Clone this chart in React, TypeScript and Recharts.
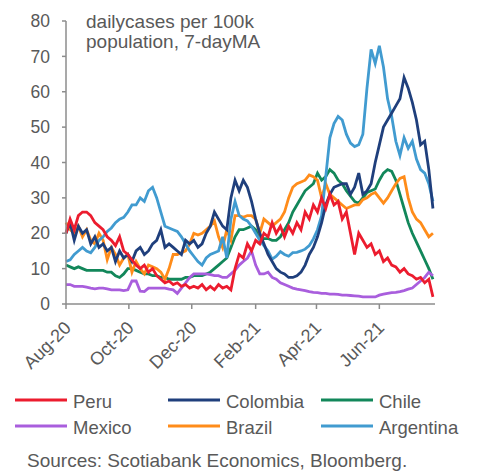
import React from 'react';
import { LineChart, Line, XAxis, YAxis } from 'recharts';

// Days since 1 Aug 2020, one sample every four days
const days: number[] = Array.from({ length: 90 }, (_, i) => i * 4);

const tickDays = [0, 61, 122, 184, 243, 304];
const tickLabels = ['Aug-20', 'Oct-20', 'Dec-20', 'Feb-21', 'Apr-21', 'Jun-21'];
const yTicks = [0, 10, 20, 30, 40, 50, 60, 70, 80];

const peru = [
  20, 24, 21, 25, 26, 26, 25, 23, 22, 21, 19, 18, 16.5, 19, 15, 14, 12.5, 11, 10, 11,
  9, 10, 8, 7, 6, 6.5, 5.5, 6, 5, 5.5, 4.5, 5, 4.5, 5.5, 4, 5, 4, 5.5, 4.5, 5,
  4, 10, 14, 13, 17, 15, 18, 17, 20, 19, 23, 20, 22, 19, 22, 20, 23, 21, 26, 24,
  28, 26, 30, 27, 31, 28, 29, 24, 26, 20, 14, 20, 18, 16, 17, 14, 15, 12, 13, 11,
  10.5, 9, 10, 8.5, 8, 7, 7.5, 6, 7, 2,
];
const colombia = [
  20, 23, 18, 22, 20, 21, 17, 19, 16, 17, 15, 16, 12, 15, 13, 14, 12, 15, 16, 14,
  15, 17, 18, 21, 16, 17, 16, 15, 14, 18, 17, 18, 16, 17, 20, 22, 26, 24, 22, 21,
  30, 35, 32, 35, 33, 29, 24, 20, 17, 14, 12, 10, 9, 8.5, 7.5, 7.5, 8, 9, 11, 14,
  16, 19, 23, 28, 31, 33, 33.5, 34, 34, 31, 33, 37, 31, 32, 34, 40, 45, 50, 52, 54,
  56, 58, 64, 61, 57, 52, 45, 46, 38, 27,
];
const chile = [
  11, 10.5, 10, 10.5, 10, 9.5, 9.5, 9.5, 9.5, 9.5, 9, 9, 8, 7.5, 8.5, 10, 10, 9.5, 9, 8.5,
  8.5, 8, 8, 7.5, 7.5, 7, 7, 7, 7, 7.5, 7.5, 8, 8, 8, 8.5, 9, 10, 11, 12, 13,
  16, 19, 21, 21, 21.5, 22, 21, 19, 18.5, 18.5, 18, 18, 19, 21, 23, 26, 28, 30, 32, 33,
  34, 37, 35, 36, 38, 37, 35, 34, 32, 30.5, 29, 28.5, 30, 31.5, 32, 32.5, 35, 37, 38, 37.5,
  35, 31, 27, 23, 20, 17.5, 15, 12.5, 10, 7,
];
const mexico = [
  5.5, 5.5, 5, 5, 5, 4.8, 4.5, 4.3, 4.5, 4.5, 4.3, 4, 4, 4, 3.8, 4, 6.5, 6.5, 3.6, 3.5,
  4.5, 4.5, 4.5, 4.5, 4.5, 4.2, 4, 3, 4.5, 6, 7.5, 8.5, 8.5, 8.5, 8.5, 8.3, 8, 8, 7.5, 7.5,
  8.5, 9.5, 11, 12, 13, 15, 11, 8.5, 8.5, 9, 7.5, 7, 6, 5.5, 5, 4.5, 4.2, 4, 3.8, 3.5,
  3.3, 3.2, 3, 3, 2.8, 2.8, 2.7, 2.5, 2.5, 2.4, 2.3, 2.2, 2, 2, 2, 2, 2.5, 2.8, 3, 3.2,
  3.3, 3.5, 3.8, 4.2, 4.5, 5.5, 6.5, 7.5, 9, 8,
];
const brazil = [
  23, 21, 20, 22, 19, 21, 18, 17, 20, 18, 12.5, 16, 14, 11, 13, 14, 9, 12, 10, 8.5,
  11, 10.5, 10, 9, 7, 10, 14, 14, 14.5, 15, 17, 20, 19.5, 20, 21, 22, 23.5, 19, 16, 21,
  18, 25, 25, 24.5, 25, 25, 24, 20, 24, 23, 22, 23, 24, 26, 30, 33, 34, 34.5, 35, 36.5,
  36, 35, 30, 34, 31, 30, 29, 28, 27, 27.5, 28, 28, 29.5, 30, 31, 31.5, 30, 28.5, 30, 32,
  34, 35.5, 36, 30, 26, 24, 23, 21, 19, 20,
];
const argentina = [
  12, 12.5, 14, 15, 16, 15, 14.5, 16, 18, 19, 20.5, 21.5, 23, 24, 24.5, 26, 28, 28, 30, 29,
  32, 33, 30, 26, 22, 21.5, 21, 20.5, 19, 17, 15, 13.5, 12, 11, 13, 14, 14.5, 15, 19, 13,
  24, 29, 25, 24, 23.5, 22, 20, 18, 16.5, 15, 12.7, 13.5, 14.8, 14, 13.5, 14.5, 14.6, 15, 15.5, 16.5,
  18.4, 21, 25, 36, 47, 51, 53, 52, 48, 45.5, 44.5, 45, 48, 61, 72, 68, 73, 67, 58, 53,
  46, 42, 47, 44, 46, 41, 38, 37, 34, 29,
];

const series = [
  { key: 'peru', name: 'Peru', color: '#EC1C2E', values: peru },
  { key: 'colombia', name: 'Colombia', color: '#1F3F7C', values: colombia },
  { key: 'chile', name: 'Chile', color: '#12875A', values: chile },
  { key: 'mexico', name: 'Mexico', color: '#A95EDD', values: mexico },
  { key: 'brazil', name: 'Brazil', color: '#FF8C1A', values: brazil },
  { key: 'argentina', name: 'Argentina', color: '#419BD0', values: argentina },
];

// Draw order: later entries sit on top
const drawOrder = ['chile', 'mexico', 'brazil', 'argentina', 'colombia', 'peru'];

const rows = days.map((day, i) => {
  const row: Record<string, number> = { day };
  series.forEach((s) => {
    row[s.key] = s.values[i];
  });
  return row;
});

const FONT = '"Liberation Sans", Arial, sans-serif';
const TEXT = '#595959';
const AXIS = '#8C8C8C';

const XTick = (props: any) => {
  const { x, y, payload } = props;
  const idx = tickDays.indexOf(payload.value);
  const px = x + 6;
  const py = y + 18;
  return (
    <text
      x={px}
      y={py}
      transform={`rotate(-45 ${px} ${py})`}
      textAnchor="end"
      fill={TEXT}
      fontSize={18}
      fontFamily={FONT}
    >
      {idx >= 0 ? tickLabels[idx] : ''}
    </text>
  );
};

// Legend: three columns, two rows
const legendColX = [15, 168, 321];
const legendRowY = [400, 426];

export default function App() {
  return (
    <div
      style={{
        position: 'absolute',
        left: 0,
        top: 0,
        width: 477,
        height: 472,
        background: '#fff',
        fontFamily: FONT,
      }}
    >
      <LineChart
        width={477}
        height={472}
        data={rows}
        margin={{ top: 21, right: 42, bottom: 108, left: 0 }}
      >
        <XAxis
          dataKey="day"
          type="number"
          domain={[0, 358]}
          ticks={tickDays}
          interval={0}
          tick={<XTick />}
          tickSize={5}
          height={60}
          stroke={AXIS}
          axisLine={{ stroke: AXIS, strokeWidth: 1.5 }}
          tickLine={{ stroke: AXIS, strokeWidth: 1.5 }}
        />
        <YAxis
          type="number"
          domain={[0, 80]}
          ticks={yTicks}
          interval={0}
          width={66}
          tickSize={4}
          tickMargin={12}
          axisLine={{ stroke: AXIS, strokeWidth: 1.5 }}
          tickLine={{ stroke: AXIS, strokeWidth: 1.5 }}
          tick={{ fill: TEXT, fontSize: 17.5, fontFamily: FONT }}
        />
        {drawOrder.map((k) => {
          const s = series.find((x) => x.key === k)!;
          return (
            <Line
              key={s.key}
              type="linear"
              dataKey={s.key}
              name={s.name}
              stroke={s.color}
              strokeWidth={2.8}
              dot={false}
              isAnimationActive={false}
            />
          );
        })}
      </LineChart>

      <svg
        width={477}
        height={472}
        style={{ position: 'absolute', left: 0, top: 0, pointerEvents: 'none' }}
      >
        <text x={86} y={28} fill={TEXT} fontSize={19} fontFamily={FONT}>
          dailycases per 100k
        </text>
        <text x={86} y={48} fill={TEXT} fontSize={19} fontFamily={FONT}>
          population, 7-dayMA
        </text>

        {series.map((s, i) => {
          const cx = legendColX[i % 3];
          const cy = legendRowY[Math.floor(i / 3)];
          return (
            <g key={s.key}>
              <line x1={cx} y1={cy} x2={cx + 52} y2={cy} stroke={s.color} strokeWidth={3} />
              <text x={cx + 58} y={cy + 8.3} fill={TEXT} fontSize={18.5} fontFamily={FONT}>
                {s.name}
              </text>
            </g>
          );
        })}

        <text x={27} y={466.5} fill={TEXT} fontSize={19} fontFamily={FONT}>
          Sources: Scotiabank Economics, Bloomberg.
        </text>
      </svg>
    </div>
  );
}
